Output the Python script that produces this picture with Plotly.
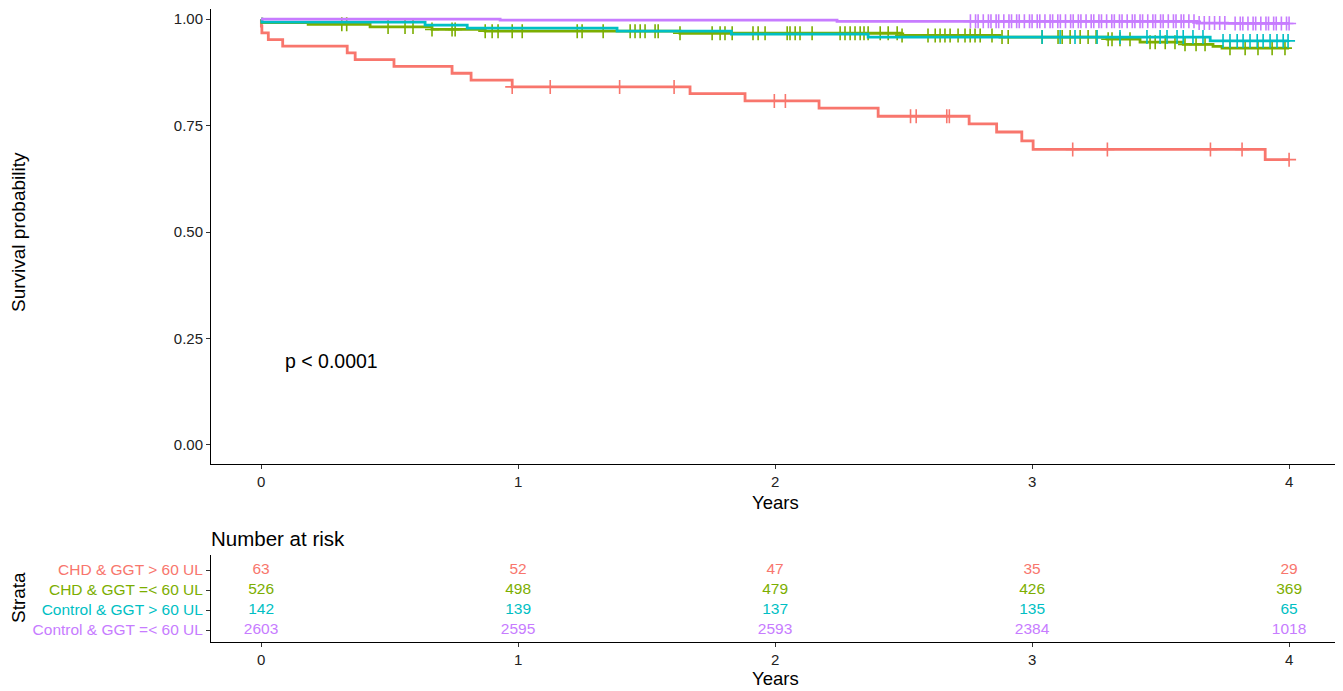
import numpy as np
import plotly.graph_objects as go

# ---------------- data ----------------
groups = ["CHD & GGT > 60 UL", "CHD & GGT =< 60 UL", "Control & GGT > 60 UL", "Control & GGT =< 60 UL"]
colors = ["#F8766D", "#7CAE00", "#00BFC4", "#C77CFF"]

red_times = [0, 0.001, 0.003, 0.028, 0.084, 0.335, 0.366, 0.517, 0.743, 0.817, 0.977,
             1.669, 1.883, 2.171, 2.401, 2.755, 2.862, 2.960, 3.004, 3.907]
red_surv = [1.0, 0.984, 0.968, 0.952, 0.937, 0.921, 0.905, 0.889, 0.873, 0.857, 0.841,
            0.825, 0.808, 0.791, 0.772, 0.754, 0.735, 0.714, 0.694, 0.670]
red_censor = [0.977, 1.125, 1.395, 1.607, 1.997, 2.040, 2.527, 2.549, 2.668, 2.678,
              3.158, 3.293, 3.694, 3.817, 4.0]

green_times = [0, 0.003, 0.183, 0.424, 0.665, 0.872, 1.630, 2.490, 2.875, 3.292, 3.420, 3.588, 3.704, 3.739]
green_surv = [1.0, 0.992, 0.988, 0.982, 0.976, 0.972, 0.967, 0.962, 0.958, 0.953, 0.946, 0.941, 0.936, 0.932]
green_censor = [0.314, 0.333, 0.494, 0.560, 0.591, 0.665, 0.743, 0.755, 0.872, 0.899, 0.922, 0.977,
                1.016, 1.230, 1.249, 1.331, 1.436, 1.455, 1.475, 1.494, 1.533, 1.545, 1.630,
                1.755, 1.786, 1.805, 1.833, 1.914, 1.934, 1.961, 2.047, 2.058, 2.078, 2.097,
                2.144, 2.253, 2.272, 2.292, 2.311, 2.331, 2.346, 2.362, 2.409, 2.440, 2.475,
                2.494, 2.595, 2.623, 2.642, 2.661, 2.681, 2.712, 2.739, 2.759, 2.778, 2.798,
                2.844, 2.883, 2.907, 3.039, 3.101, 3.117, 3.148, 3.187, 3.218, 3.249, 3.296,
                3.311, 3.342, 3.381, 3.459, 3.479, 3.518, 3.556, 3.595, 3.638, 3.673, 3.770,
                3.829, 3.879, 3.934, 3.984]

cyan_times = [0, 0.003, 0.638, 0.802, 1.385, 1.830, 2.362, 3.693]
cyan_surv = [1.0, 0.993, 0.986, 0.979, 0.972, 0.965, 0.958, 0.949]
cyan_censor = [3.039, 3.109, 3.167, 3.253, 3.342, 3.447, 3.498, 3.525, 3.564, 3.588, 3.626,
               3.665, 3.743, 3.770, 3.798, 3.821, 3.848, 3.876, 3.899, 3.926, 3.953, 3.977, 3.996]

purple_times = [0, 0.930, 2.241, 3.642, 3.760]
purple_surv = [1.0, 0.998, 0.995, 0.991, 0.990]
purple_censor = [2.76, 2.78, 2.79, 2.81, 2.83, 2.84, 2.86, 2.87, 2.89, 2.91, 2.92, 2.94, 2.95,
                 2.97, 2.99, 3.00, 3.02, 3.03, 3.05, 3.07, 3.08, 3.10, 3.11, 3.13, 3.15, 3.16,
                 3.18, 3.19, 3.21, 3.23, 3.24, 3.26, 3.27, 3.29, 3.31, 3.32, 3.34, 3.35, 3.37,
                 3.39, 3.40, 3.42, 3.43, 3.45, 3.47, 3.48, 3.50, 3.51, 3.53, 3.55, 3.56, 3.58,
                 3.59, 3.61, 3.63, 3.65, 3.67, 3.69, 3.71, 3.73, 3.75, 3.79, 3.81, 3.82, 3.84,
                 3.86, 3.87, 3.89, 3.91, 3.92, 3.94, 3.95, 3.97, 3.99, 4.00]

end_time = 4.0

risk_times = [0, 1, 2, 3, 4]
risk_red = [63, 52, 47, 35, 29]
risk_green = [526, 498, 479, 426, 369]
risk_cyan = [142, 139, 137, 135, 65]
risk_purple = [2603, 2595, 2593, 2384, 1018]

y_ticks = [0.0, 0.25, 0.50, 0.75, 1.00]
y_ticktext = ["0.00", "0.25", "0.50", "0.75", "1.00"]
x_ticks = [0, 1, 2, 3, 4]
pval_text = "p < 0.0001"

# ---------------- figure ----------------
OFF = 8  # default page body margin
W, H = 1343 - OFF, 691 - OFF
FONT = "Liberation Sans, Arial, sans-serif"

curves = [
    (red_times, red_surv, red_censor),
    (green_times, green_surv, green_censor),
    (cyan_times, cyan_surv, cyan_censor),
    (purple_times, purple_surv, purple_censor),
]
risks = [risk_red, risk_green, risk_cyan, risk_purple]

fig = go.Figure()

for (t, s, c), col, name in zip(curves, colors, groups):
    xs = list(t) + [end_time]
    ys = list(s) + [s[-1]]
    fig.add_trace(go.Scatter(x=xs, y=ys, mode="lines", line=dict(color=col, width=2.8, shape="hv"),
                             name=name, showlegend=False, xaxis="x", yaxis="y", hoverinfo="skip"))
    ta = np.array(t)
    sa = np.array(s)
    idx = np.searchsorted(ta, np.array(c), side="right") - 1
    cy = sa[idx]
    fig.add_trace(go.Scatter(x=c, y=cy, mode="markers",
                             marker=dict(symbol="cross-thin", size=10, color=col,
                                         line=dict(color=col, width=1.6)),
                             showlegend=False, xaxis="x", yaxis="y", hoverinfo="skip"))

# risk table rows (top row = first group)
row_pos = [4, 3, 2, 1]
for r, col, yp in zip(risks, colors, row_pos):
    fig.add_trace(go.Scatter(x=risk_times, y=[yp] * len(risk_times), mode="text",
                             text=[str(v) for v in r],
                             textfont=dict(color=col, size=15.5, family=FONT),
                             showlegend=False, xaxis="x2", yaxis="y2", hoverinfo="skip"))

def px_x(p):
    return (p - OFF) / W

def px_y(p):
    return 1 - (p - OFF) / H

def axis_common(fs):
    return dict(showline=True, linecolor="black", linewidth=1, ticks="outside", ticklen=4,
                tickcolor="#333333", showgrid=False, zeroline=False,
                tickfont=dict(family=FONT, size=fs, color="#222222"))

xdom = [px_x(211), px_x(1341)]
fig.update_layout(
    width=W, height=H,
    margin=dict(l=0, r=0, t=0, b=0),
    paper_bgcolor="white", plot_bgcolor="white",
    font=dict(family=FONT, color="black"),
    xaxis=dict(domain=xdom, range=[-0.195, 4.202], tickvals=x_ticks, anchor="y", **axis_common(15)),
    yaxis=dict(domain=[px_y(464), px_y(9)], range=[-0.045, 1.024], tickvals=y_ticks,
               ticktext=y_ticktext, anchor="x", **axis_common(15)),
    xaxis2=dict(domain=xdom, range=[-0.195, 4.202], tickvals=x_ticks, anchor="y2", **axis_common(15)),
    yaxis2=dict(domain=[px_y(642), px_y(555)], range=[0.4, 4.75], tickvals=row_pos,
                ticktext=[f"<span style='color:{c}'>{g}</span>" for g, c in zip(groups, colors)],
                anchor="x2", **axis_common(15.5)),
)

ann = []
ann.append(dict(text="Survival probability", x=px_x(18), y=px_y(232), xref="paper", yref="paper",
                textangle=-90, showarrow=False, font=dict(size=19, family=FONT, color="black"),
                xanchor="center", yanchor="middle"))
ann.append(dict(text="Years", x=px_x(775), y=px_y(502), xref="paper", yref="paper", showarrow=False,
                font=dict(size=18.5, family=FONT, color="black"), xanchor="center", yanchor="middle"))
ann.append(dict(text="Years", x=px_x(775), y=px_y(678), xref="paper", yref="paper", showarrow=False,
                font=dict(size=18.5, family=FONT, color="black"), xanchor="center", yanchor="middle"))
ann.append(dict(text="Number at risk", x=px_x(209), y=px_y(538), xref="paper", yref="paper",
                showarrow=False, font=dict(size=20.5, family=FONT, color="black"),
                xanchor="left", yanchor="middle"))
ann.append(dict(text="Strata", x=px_x(18), y=px_y(598), xref="paper", yref="paper", textangle=-90,
                showarrow=False, font=dict(size=19, family=FONT, color="black"),
                xanchor="center", yanchor="middle"))
ann.append(dict(text=pval_text, x=0.086, y=0.198, xref="x", yref="y", showarrow=False,
                font=dict(size=19.5, family=FONT, color="black"), xanchor="left", yanchor="middle"))
fig.update_layout(annotations=ann)

fig.write_html("out.html")
